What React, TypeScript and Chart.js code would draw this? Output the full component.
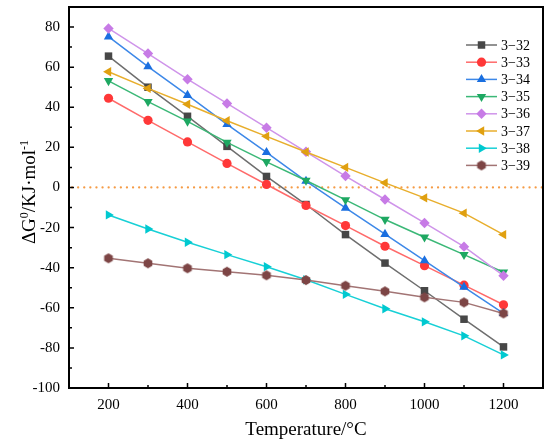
import { useEffect, useRef } from 'react';
import { Chart, registerables } from 'chart.js';
import { drawPoint } from 'chart.js/helpers';

Chart.register(...registerables);

const FONT = '"Liberation Serif", "Times New Roman", serif';

// temperature (°C)
const TEMPS = [200, 300, 400, 500, 600, 700, 800, 900, 1000, 1100, 1200];
const X_TICKS = [200, 400, 600, 800, 1000, 1200];
const Y_TICKS = [-100, -80, -60, -40, -20, 0, 20, 40, 60, 80];
const X_MIN = 100;
const X_MAX = 1300;
const Y_MIN = -100;
const Y_MAX = 90;
const ZERO = 0;

const NAMES = ['3−32', '3−33', '3−34', '3−35', '3−36', '3−37', '3−38', '3−39'];
const S32 = [65.5, 50, 35.5, 20.5, 5.5, -8.5, -23.5, -37.7, -51.5, -65.7, -79.5];
const S33 = [44.5, 33.5, 22.7, 12, 1.5, -9, -19, -29.3, -39, -48.7, -58.5];
const S34 = [75.2, 60.3, 46, 31.5, 17.5, 3.2, -10.2, -23.3, -36.5, -49.7, -62.8];
const S35 = [53.2, 42.8, 33, 22.5, 12.8, 3.5, -6.2, -16, -24.8, -33.5, -42.3];
const S36 = [79.3, 66.8, 54, 41.9, 29.8, 17.8, 5.7, -6, -17.7, -29.5, -44];
const S37 = [57.7, 49.4, 41.5, 33.3, 25.5, 17.7, 10, 2.3, -5.2, -12.8, -23.5];
const S38 = [-13.7, -20.7, -27.3, -33.5, -39.5, -46, -53.3, -60.5, -67, -74, -83.5];
const S39 = [-35.3, -37.8, -40.3, -42, -43.8, -46.2, -49, -51.8, -54.8, -57.3, -62.8];
const SERIES = [S32, S33, S34, S35, S36, S37, S38, S39];

const MARKER_COLORS = ['#474747', '#ff3838', '#1a6fe0', '#1ea862', '#c77be6', '#e0a010', '#00c9d0', '#7d4545'];
const LINE_COLORS = ['#6e6e6e', '#ff6a6a', '#3d88e8', '#3bb877', '#cf94ea', '#e8ae2c', '#18d0d6', '#a27474'];
const STYLES = ['rect', 'circle', 'triangle', 'triangle', 'rectRot', 'triangle', 'triangle', 'hex'];
const ROTATIONS = [0, 0, 0, 180, 0, -90, 90, 0];
const RADII = [5.3, 4.6, 5.4, 5.4, 5.2, 5.4, 5.4, 5];

function makeHexagon(color: string, r: number) {
  const size = Math.ceil(r * 2 + 2);
  const c = document.createElement('canvas');
  c.width = size;
  c.height = size;
  const g = c.getContext('2d')!;
  g.fillStyle = color;
  g.beginPath();
  for (let k = 0; k < 6; k++) {
    const a = Math.PI / 6 + (k * Math.PI) / 3;
    const px = size / 2 + r * Math.cos(a);
    const py = size / 2 + r * Math.sin(a);
    if (k === 0) g.moveTo(px, py);
    else g.lineTo(px, py);
  }
  g.closePath();
  g.fill();
  return c;
}

const framePlugin = {
  id: 'frame',
  beforeDatasetsDraw(chart: any) {
    const { ctx, chartArea: a, scales } = chart;
    const y0 = scales.y.getPixelForValue(ZERO);
    ctx.save();
    ctx.strokeStyle = '#f59b45';
    ctx.lineWidth = 2.2;
    ctx.lineCap = 'round';
    ctx.setLineDash([0.1, 6]);
    ctx.beginPath();
    ctx.moveTo(a.left + 3, y0);
    ctx.lineTo(a.right, y0);
    ctx.stroke();
    ctx.restore();
  },
  afterDraw(chart: any) {
    const { ctx, chartArea: a, scales } = chart;
    ctx.save();
    ctx.strokeStyle = '#000';
    ctx.lineWidth = 1.5;
    // inward ticks
    const xMinor = X_TICKS.slice(1).map((v, i) => (v + X_TICKS[i]) / 2);
    const yMinor = Y_TICKS.slice(1).map((v, i) => (v + Y_TICKS[i]) / 2);
    ctx.beginPath();
    X_TICKS.forEach(v => {
      const px = scales.x.getPixelForValue(v);
      ctx.moveTo(px, a.bottom);
      ctx.lineTo(px, a.bottom - 5);
    });
    xMinor.forEach(v => {
      const px = scales.x.getPixelForValue(v);
      ctx.moveTo(px, a.bottom);
      ctx.lineTo(px, a.bottom - 3);
    });
    Y_TICKS.forEach(v => {
      const py = scales.y.getPixelForValue(v);
      ctx.moveTo(a.left, py);
      ctx.lineTo(a.left + 5, py);
    });
    yMinor.forEach(v => {
      const py = scales.y.getPixelForValue(v);
      ctx.moveTo(a.left, py);
      ctx.lineTo(a.left + 3, py);
    });
    ctx.stroke();
    ctx.lineWidth = 2;
    ctx.strokeRect(a.left, a.top, a.right - a.left, a.bottom - a.top);

    // axis titles
    ctx.fillStyle = '#000';
    ctx.textAlign = 'center';
    ctx.textBaseline = 'middle';
    ctx.font = `19px ${FONT}`;
    ctx.fillText('Temperature/°C', (a.left + a.right) / 2, 430);

    const parts = [
      { t: 'ΔG', sup: false },
      { t: '0', sup: true },
      { t: '/KJ·mol', sup: false },
      { t: '-1', sup: true },
    ];
    ctx.save();
    ctx.translate(35, 192);
    ctx.rotate(-Math.PI / 2);
    ctx.textAlign = 'left';
    ctx.textBaseline = 'alphabetic';
    const widths = parts.map(p => {
      ctx.font = p.sup ? `12px ${FONT}` : `19px ${FONT}`;
      return ctx.measureText(p.t).width;
    });
    let x = -widths.reduce((s, w) => s + w, 0) / 2;
    parts.forEach((p, i) => {
      ctx.font = p.sup ? `12px ${FONT}` : `19px ${FONT}`;
      ctx.fillText(p.t, x, p.sup ? -7 : 0);
      x += widths[i];
    });
    ctx.restore();
    ctx.restore();
  },
};

function makeLegendPlugin(hex: HTMLCanvasElement) {
  return {
    id: 'insetLegend',
    afterDraw(chart: any) {
      const { ctx, chartArea: a } = chart;
      const x0 = a.right - 77;
      const y0 = a.top + 38;
      ctx.save();
      ctx.font = `14px ${FONT}`;
      ctx.textBaseline = 'middle';
      ctx.textAlign = 'left';
      NAMES.forEach((name, i) => {
        const y = y0 + i * 17.2;
        ctx.strokeStyle = LINE_COLORS[i];
        ctx.lineWidth = 1.5;
        ctx.beginPath();
        ctx.moveTo(x0, y);
        ctx.lineTo(x0 + 31, y);
        ctx.stroke();
        ctx.fillStyle = MARKER_COLORS[i];
        ctx.strokeStyle = MARKER_COLORS[i];
        drawPoint(ctx, {
          pointStyle: STYLES[i] === 'hex' ? hex : STYLES[i],
          rotation: ROTATIONS[i],
          radius: RADII[i],
          borderWidth: 0,
        }, x0 + 15.5, y);
        ctx.fillStyle = '#000';
        ctx.fillText(name, x0 + 35, y + 1);
      });
      ctx.restore();
    },
  };
}

function GibbsChart() {
  const canvasRef = useRef<HTMLCanvasElement>(null);
  const chartRef = useRef<Chart | null>(null);

  useEffect(() => {
    if (!canvasRef.current) return;
    chartRef.current?.destroy();
    const hex = makeHexagon(MARKER_COLORS[7], RADII[7]);
    const tickFont = { family: FONT, size: 15 };

    chartRef.current = new Chart(canvasRef.current, {
      type: 'line',
      data: {
        datasets: SERIES.map((vals, i) => ({
          label: NAMES[i],
          data: vals.map((y, k) => ({ x: TEMPS[k], y })),
          borderColor: LINE_COLORS[i],
          borderWidth: 1.5,
          pointStyle: STYLES[i] === 'hex' ? hex : STYLES[i],
          pointRotation: ROTATIONS[i],
          pointRadius: RADII[i],
          pointHoverRadius: RADII[i],
          pointBackgroundColor: MARKER_COLORS[i],
          pointBorderColor: MARKER_COLORS[i],
          pointBorderWidth: 0,
          tension: 0,
          order: SERIES.length - i,
        })),
      },
      options: {
        responsive: true,
        maintainAspectRatio: false,
        animation: false,
        layout: { padding: { top: 7, right: 7, left: 0, bottom: 0 } },
        plugins: {
          legend: { display: false },
          tooltip: { enabled: false },
        },
        scales: {
          x: {
            type: 'linear',
            min: X_MIN,
            max: X_MAX,
            afterBuildTicks: (s: any) => { s.ticks = X_TICKS.map(value => ({ value })); },
            afterFit: (s: any) => { s.height = 57; s.paddingLeft = 0; s.paddingRight = 0; },
            grid: { display: false, drawTicks: false },
            border: { display: false },
            ticks: { font: tickFont, color: '#000', padding: 8, maxRotation: 0, autoSkip: false, callback: (v: any) => String(v) },
          },
          y: {
            type: 'linear',
            min: Y_MIN,
            max: Y_MAX,
            afterBuildTicks: (s: any) => { s.ticks = Y_TICKS.map(value => ({ value })); },
            afterFit: (s: any) => { s.width = 69; s.paddingTop = 0; s.paddingBottom = 0; },
            grid: { display: false, drawTicks: false },
            border: { display: false },
            ticks: { font: tickFont, color: '#000', padding: 9, autoSkip: false, callback: (v: any) => String(v) },
          },
        },
      },
      plugins: [framePlugin, makeLegendPlugin(hex)],
    });
    return () => chartRef.current?.destroy();
  }, []);

  return (
    <div style={{ position: 'fixed', left: 0, top: 0, width: '550px', height: '445px', background: '#fff' }}>
      <canvas
        ref={canvasRef}
        role="img"
        aria-label="Line chart of ΔG0 versus temperature for samples 3-32 to 3-39"
      />
    </div>
  );
}

export default function App() {
  return <GibbsChart />;
}
